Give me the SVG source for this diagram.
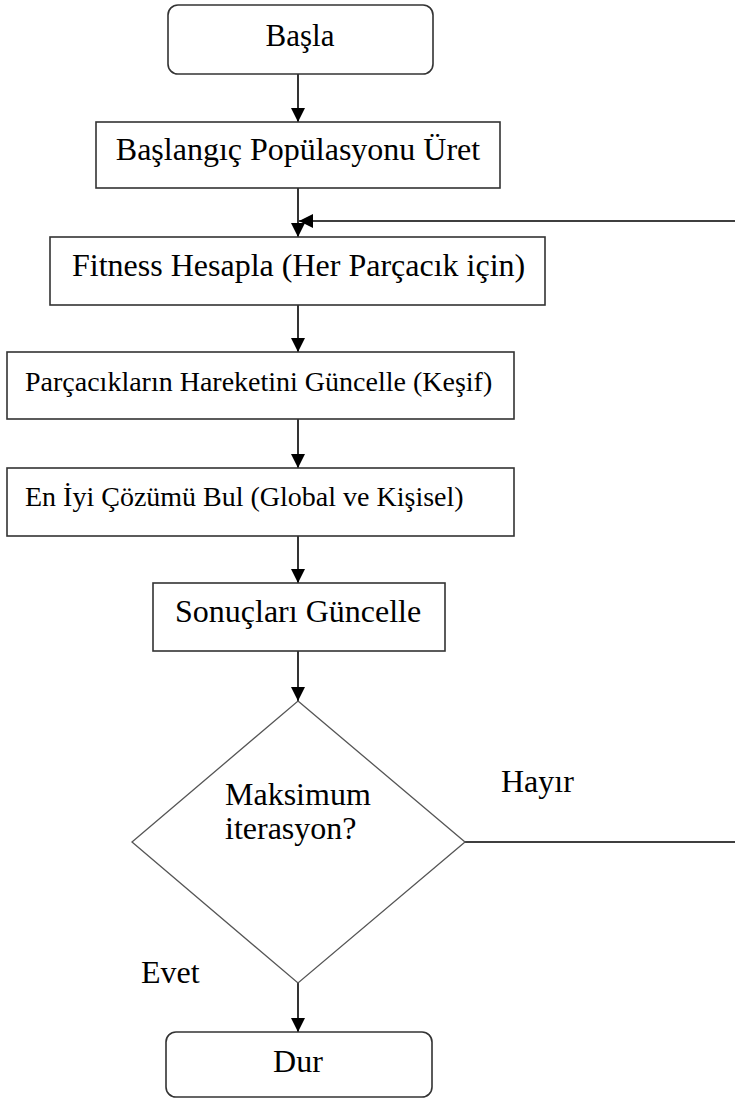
<svg xmlns="http://www.w3.org/2000/svg" width="735" height="1100" viewBox="0 0 735 1100">
<style>
.box{fill:#fff;stroke:#333;stroke-width:1.6}
.dia{fill:#fff;stroke:#555;stroke-width:1.3}
.t{font-family:"Liberation Serif","Times New Roman",serif;fill:#000}
.c{stroke:#000;stroke-width:1.6;fill:none}
</style>
<defs>
<marker id="ah" markerWidth="14" markerHeight="14" viewBox="0 0 14 14" refX="14" refY="7" orient="auto" markerUnits="userSpaceOnUse">
<path d="M0,0 L14,7 L0,14 Z" fill="#000"/>
</marker>
</defs>
<rect width="735" height="1100" fill="#fff"/>
<g id="connectors">
<line class="c" x1="298" y1="74" x2="298" y2="122" marker-end="url(#ah)"/>
<line class="c" x1="298" y1="188" x2="298" y2="237" marker-end="url(#ah)"/>
<line class="c" x1="298" y1="305" x2="298" y2="352" marker-end="url(#ah)"/>
<line class="c" x1="298" y1="419" x2="298" y2="468" marker-end="url(#ah)"/>
<line class="c" x1="298" y1="536" x2="298" y2="583" marker-end="url(#ah)"/>
<line class="c" x1="298" y1="651" x2="298" y2="701" marker-end="url(#ah)"/>
<line class="c" x1="298" y1="983" x2="298" y2="1032" marker-end="url(#ah)"/>
<path class="c" d="M465,842 H740 V221 H299" marker-end="url(#ah)"/>
</g>
<g id="basla">
<rect class="box" x="168" y="5" width="265" height="69" rx="10"/>
<text class="t" x="300" y="46" font-size="31" text-anchor="middle">Başla</text>
</g>
<g id="baslangic">
<rect class="box" x="96" y="122" width="404" height="66"/>
<text class="t" x="298" y="160" font-size="32" text-anchor="middle">Başlangıç Popülasyonu Üret</text>
</g>
<g id="fitness">
<rect class="box" x="50" y="237" width="495" height="68"/>
<text class="t" x="72" y="276" font-size="32">Fitness Hesapla (Her Parçacık için)</text>
</g>
<g id="hareket">
<rect class="box" x="7" y="352" width="507" height="67"/>
<text class="t" x="25" y="391" font-size="28">Parçacıkların Hareketini Güncelle (Keşif)</text>
</g>
<g id="eniyi">
<rect class="box" x="7" y="468" width="507" height="68"/>
<text class="t" x="25" y="506" font-size="28">En İyi Çözümü Bul (Global ve Kişisel)</text>
</g>
<g id="sonuc">
<rect class="box" x="153" y="583" width="292" height="68"/>
<text class="t" x="175" y="622" font-size="32">Sonuçları Güncelle</text>
</g>
<g id="karar">
<polygon class="dia" points="298,701 465,842 298,983 132,842"/>
<text class="t" x="225" y="805" font-size="32">Maksimum</text>
<text class="t" x="225" y="839" font-size="32">iterasyon?</text>
</g>
<g id="etiketler">
<text class="t" x="501" y="792" font-size="32">Hayır</text>
<text class="t" x="141" y="983" font-size="32">Evet</text>
</g>
<g id="dur">
<rect class="box" x="166" y="1032" width="266" height="65" rx="10"/>
<text class="t" x="298" y="1072" font-size="32" text-anchor="middle">Dur</text>
</g>
</svg>
